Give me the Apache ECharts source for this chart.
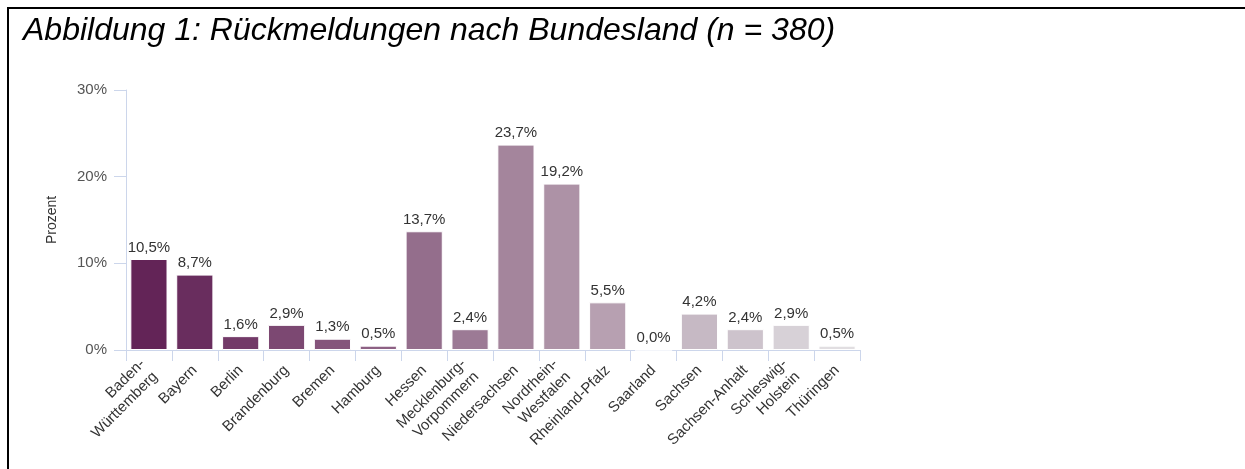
<!DOCTYPE html>
<html>
<head>
<meta charset="utf-8">
<script src="https://cdn.jsdelivr.net/npm/echarts@6/dist/echarts.min.js"></script>
<style>
  html, body { margin: 0; padding: 0; background: #fff; }
  #frame {
    position: absolute; left: 7px; top: 7px; width: 1238px; height: 462px;
    border-top: 2px solid #000; border-left: 2px solid #000;
  }
  #title {
    position: absolute; left: 23px; top: 11px;
    font-family: "Liberation Sans", Arial, sans-serif; font-style: italic;
    font-size: 32px; color: #000; white-space: nowrap;
  }
  #chart { position: absolute; left: 0; top: 0; width: 1245px; height: 469px; }
</style>
</head>
<body>
<div id="frame"></div>
<div id="chart"></div>
<div id="title">Abbildung 1: Rückmeldungen nach Bundesland (n = 380)</div>
<script>
// Rückmeldungen je Bundesland in Prozent
const laender = [
  "Baden-\nWürttemberg", "Bayern", "Berlin", "Brandenburg", "Bremen",
  "Hamburg", "Hessen", "Mecklenburg-\nVorpommern", "Niedersachsen",
  "Nordrhein-\nWestfalen", "Rheinland-Pfalz", "Saarland", "Sachsen",
  "Sachsen-Anhalt", "Schleswig-\nHolstein", "Thüringen"
];
const prozent = [10.5, 8.7, 1.6, 2.9, 1.3, 0.5, 13.7, 2.4, 23.7, 19.2, 5.5, 0.0, 4.2, 2.4, 2.9, 0.5];
const farben = [
  "#632457", "#692d5e", "#733a68", "#7c4872", "#85547b", "#8d6184",
  "#946e8c", "#9c7a95", "#a4859c", "#ad92a6", "#b7a0b1", "#bfabb9",
  "#c6b9c4", "#cdc3cc", "#d7d1d7", "#e1dee1"
];
const yTicks = [0, 10, 20, 30];

var chart = echarts.init(document.getElementById("chart"));
var font = "Liberation Sans, Arial, sans-serif";
var option = {
  animation: false,
  grid: { left: 126, top: 90, width: 734, bottom: 119, containLabel: false },
  xAxis: {
    type: "category",
    data: laender,
    axisLine: { lineStyle: { color: "#ccd6eb" } },
    axisTick: { show: true, length: 11, lineStyle: { color: "#ccd6eb" } },
    axisLabel: {
      rotate: 45, interval: 0, margin: 18,
      fontFamily: font, fontSize: 15, color: "#333", lineHeight: 18
    }
  },
  yAxis: {
    type: "value",
    min: yTicks[0], max: yTicks[yTicks.length - 1], interval: 10,
    name: "Prozent", nameLocation: "middle", nameGap: 67,
    nameTextStyle: { fontFamily: font, fontSize: 14, color: "#333" },
    axisLine: { show: true, lineStyle: { color: "#ccd6eb" } },
    axisTick: { show: true, length: 12, inside: false, lineStyle: { color: "#ccd6eb" } },
    splitLine: { show: false },
    axisLabel: {
      fontFamily: font, fontSize: 15, color: "#555", margin: 19,
      formatter: function (v) { return v + "%"; }
    }
  },
  series: [{
    type: "bar",
    barCategoryGap: "19%",
    data: prozent.map(function (v, i) {
      return { value: v, itemStyle: { color: farben[i] } };
    }),
    itemStyle: { borderColor: "#fff", borderWidth: 1 },
    label: {
      show: true, position: "top", distance: 4,
      fontFamily: font, fontSize: 15, color: "#333",
      formatter: function (p) { return p.value.toFixed(1).replace(".", ",") + "%"; }
    }
  }]
};
chart.setOption(option);
</script>
</body>
</html>
